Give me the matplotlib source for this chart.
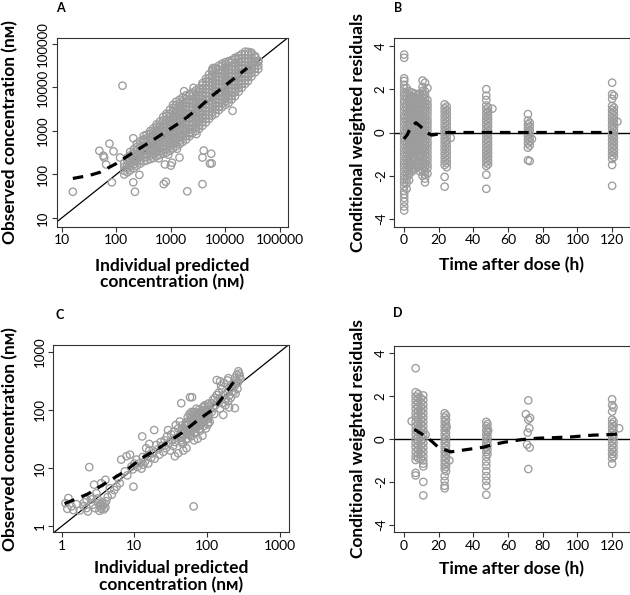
import numpy as np
import matplotlib
matplotlib.use("Agg")
import matplotlib.pyplot as plt
from matplotlib.ticker import NullLocator

# ---- panel A: observed vs individual predicted concentration (nM) ----
# scattered points read one by one
a_outliers = [
    (16, 40), (49, 350), (75, 510), (65, 170), (60, 245), (89, 340), (83, 66),
    (58, 270), (117, 245), (205, 680), (315, 610), (205, 66), (220, 40), (265, 98),
    (130, 11000), (780, 170), (1050, 186), (1000, 160), (740, 60), (810, 68),
    (1440, 245), (2000, 41), (3800, 60), (4000, 355), (3800, 245), (5500, 300),
    (5200, 178), (5600, 180), (2200, 870), (2950, 850), (13500, 2900), (5900, 28000),
    (600, 235), (900, 285), (1300, 390), (1750, 8200), (2600, 9800),
]
# dense band, read column by column: (ipred, [observed ...])
a_cloud = [
    (140, [100, 122, 150, 182]),
    (160, [112, 138, 165, 205, 245]),
    (180, [125, 155, 185, 230, 275, 330]),
    (210, [140, 172, 210, 255, 305, 380]),
    (238, [158, 195, 232, 290, 345, 425, 510]),
    (276, [178, 215, 265, 318, 392, 470, 580]),
    (318, [200, 245, 295, 362, 435, 535, 645, 770]),
    (360, [210, 252, 310, 375, 460, 555, 680, 820]),
    (420, [225, 270, 332, 400, 492, 595, 728, 875, 1000]),
    (480, [240, 295, 352, 435, 522, 640, 775, 950, 1150]),
    (548, [262, 322, 388, 475, 575, 705, 850, 1040, 1250, 1420]),
    (630, [285, 340, 420, 505, 620, 748, 915, 1100, 1360, 1640]),
    (725, [300, 370, 445, 545, 660, 808, 975, 1200, 1440, 1770, 2100]),
    (830, [318, 382, 470, 565, 695, 840, 1030, 1240, 1520, 1830, 2250, 2500]),
    (960, [352, 435, 522, 642, 775, 950, 1145, 1400, 1690, 2080, 2500, 3080]),
    (1100, [400, 482, 592, 712, 875, 1055, 1295, 1560, 1910, 2310, 2830, 3420, 4000]),
    (1250, [445, 548, 658, 808, 975, 1195, 1440, 1770, 2130, 2610, 3160, 3870, 4700]),
    (1450, [505, 605, 745, 895, 1100, 1325, 1630, 1960, 2410, 2900, 3560, 4300, 5250]),
    (1650, [560, 690, 828, 1020, 1225, 1505, 1810, 2220, 2680, 3290, 3970, 4870, 5900]),
    (1900, [635, 762, 940, 1130, 1390, 1670, 2050, 2470, 3030, 3660, 4490, 5420, 6600]),
    (2200, [755, 930, 1115, 1370, 1650, 2030, 2445, 3000, 3620, 4440, 5350, 6560, 7100]),
    (2500, [895, 1080, 1325, 1595, 1960, 2360, 2900, 3490, 4290, 5170, 6340, 7650]),
    (2900, [1000, 1225, 1470, 1810, 2180, 2680, 3220, 3960, 4760, 5850, 7040, 8650]),
    (3300, [1125, 1355, 1670, 2010, 2470, 2970, 3650, 4400, 5400, 6500, 7990, 9650]),
    (3800, [1320, 1595, 1960, 2360, 2900, 3490, 4290, 5160, 6340, 7640, 9380, 11300, 12600]),
    (4400, [1580, 1940, 2330, 2870, 3450, 4240, 5100, 6270, 7550, 9280, 11200, 13700, 15900]),
    (5000, [1900, 2330, 2800, 3450, 4150, 5100, 6140, 7540, 9080, 11150, 13400, 16500, 19900]),
    (5700, [2250, 2710, 3330, 4010, 4920, 5930, 7290, 8780, 10800, 13000, 15950, 19200, 23600, 25100]),
    (6600, [2500, 3070, 3700, 4540, 5470, 6720, 8090, 9940, 11950, 14700, 17700, 21800, 26200, 28300]),
    (7600, [3030, 3650, 4490, 5410, 6640, 8000, 9820, 11830, 14530, 17500, 21500, 25900, 31800]),
    (8700, [3530, 4340, 5220, 6410, 7720, 9490, 11420, 14040, 16900, 20760, 25000, 30700, 35300]),
    (10000, [4000, 4820, 5920, 7130, 8760, 10540, 12950, 15600, 19150, 23070, 28350, 34100, 38200]),
    (11500, [4440, 5460, 6570, 8080, 9730, 11950, 14390, 17680, 21290, 26150, 31500, 38700, 40200]),
    (13000, [5270, 6350, 7800, 9390, 11540, 13900, 17060, 20550, 25250, 30400, 37350, 42500]),
    (15000, [6280, 7710, 9290, 11420, 13750, 16890, 20330, 24990, 30070, 36950, 44450, 48100]),
    (17500, [7990, 9610, 11810, 14220, 17470, 21020, 25840, 31110, 38230, 46010, 52800]),
    (20000, [9950, 12220, 14710, 18080, 21770, 26750, 32190, 39570, 47620, 58500]),
    (23000, [12080, 14540, 17870, 21520, 26450, 31840, 39120, 47090, 57860, 66500]),
    (26000, [14050, 17270, 20790, 25550, 30760, 37800, 45500, 55910, 65700]),
    (30000, [17880, 21520, 26450, 31840, 39120, 47090, 57860, 63400]),
    (35000, [22280, 27380, 32960, 40500, 48750, 52800]),
    (40000, [26450, 31840, 39120, 41500]),
]
a_loess_x = [16, 32, 50, 100, 200, 400, 800, 1580, 3160, 6300, 12600, 25000]
a_loess_y = [81, 95, 112, 178, 316, 540, 955, 1660, 3300, 7100, 14100, 28000]

# ---- panel B: CWRES vs time after dose (h) ----
b_cols = [
    (0.2, [3.6, 3.45, 2.5, 2.38, 2.2, 2.04, 1.85, 1.7, 1.5, 1.36, 1.17, 1.0, 0.8, 0.66, 0.47, 0.3, 0.1, -0.05,
           -0.24, -0.4, -0.57, -0.76, -0.93, -1.1, -1.3, -1.45, -1.62, -1.8, -1.99, -2.15, -2.31, -2.5, -2.7,
           -2.85, -3.02, -3.2, -3.42, -3.6]),
    (1.6, [2.05, 1.86, 1.7, 1.55, 1.34, 1.18, 1.02, 0.83, 0.65, 0.49, 0.3, 0.12, -0.05, -0.23, -0.4, -0.56,
           -0.75, -0.93, -1.1, -1.26, -1.45, -1.63, -1.8, -1.96, -2.15, -2.33, -2.6]),
    (3.0, [1.9, 1.73, 1.54, 1.38, 1.2, 1.01, 0.85, 0.68, 0.5, 0.31, 0.15, -0.03, -0.21, -0.38, -0.55, -0.72,
           -0.9, -1.08, -1.26, -1.43, -1.6, -1.77, -1.95, -2.2]),
    (4.6, [1.85, 1.66, 1.5, 1.33, 1.14, 0.97, 0.8, 0.61, 0.45, 0.28, 0.1, -0.07, -0.25, -0.44, -0.6, -0.77,
           -0.95, -1.14, -1.3, -1.48, -1.65, -1.8]),
    (6.2, [1.8, 1.63, 1.44, 1.27, 1.1, 0.93, 0.74, 0.57, 0.4, 0.21, 0.05, -0.13, -0.3, -0.49, -0.65, -0.82,
           -1.0, -1.19, -1.35, -1.52, -1.7]),
    (7.8, [1.75, 1.57, 1.4, 1.24, 1.05, 0.87, 0.7, 0.54, 0.35, 0.17, 0.0, -0.18, -0.35, -0.51, -0.7, -0.88,
           -1.05, -1.4, -1.6]),
    (9.3, [1.8, 1.62, 1.45, 1.29, 1.1, 0.92, 0.76, 0.58, 0.4, 0.22, 0.05, -0.12, -0.31, -0.47, -0.65, -0.83,
           -1.0, -1.16, -1.35, -1.53, -1.8]),
    (10.8, [2.4, 2.1, 1.92, 1.75, 1.59, 1.4, 1.22, 1.05, 0.88, 0.7, 0.52, 0.35, 0.19, 0.0, -0.17, -0.36,
            -0.52, -0.7, -0.86, -1.05, -1.23, -1.4, -1.57, -1.76, -2.0]),
    (12.2, [2.3, 1.9, 1.73, 1.55, 1.36, 1.2, 1.03, 0.85, 0.66, 0.5, 0.33, 0.15, -0.03, -0.2, -0.39, -0.55,
            -0.72, -0.9, -1.08, -1.26, -1.43, -1.6, -1.78, -1.95, -2.13, -2.3]),
    (13.6, [2.05, 1.5, 1.31, 1.15, 0.98, 0.8, 0.61, 0.45, 0.28, 0.1, -0.07, -0.25, -0.44, -0.6, -0.77, -0.95,
            -1.13, -1.3, -1.49, -1.65, -1.9]),
    (23.5, [1.3, 1.12, 0.95, 0.77, 0.6, 0.42, 0.25, 0.07, -0.1, -0.28, -0.45, -0.63, -0.8, -0.98, -1.15,
            -1.33, -1.5, -2.05, -2.5]),
    (24.7, [1.2, 1.03, 0.85, 0.68, 0.5, 0.33, 0.15, -0.02, -0.2, -0.37, -0.55, -0.72, -0.9, -1.07, -1.25,
            -1.42, -1.6]),
    (47.5, [2.0, 1.7, 1.5, 1.25, 1.07, 0.9, 0.72, 0.55, 0.37, 0.2, 0.02, -0.15, -0.33, -0.5, -0.68, -0.85,
            -1.03, -1.2, -1.38, -1.55, -1.95, -2.6]),
    (48.5, [1.15, 0.98, 0.8, 0.63, 0.45, 0.28, 0.1, -0.07, -0.25, -0.42, -0.6, -0.77, -0.95, -1.12, -1.3,
            -1.47]),
    (71.5, [0.85, 0.55, 0.38, 0.2, 0.03, -0.15, -0.32, -0.5, -0.7, -1.28]),
    (72.5, [0.45, 0.28, 0.1, -0.07, -0.25, -0.42, -0.6, -1.32]),
    (120.0, [2.3, 1.77, 1.55, 1.23, 1.05, 0.88, 0.7, 0.53, 0.35, 0.18, 0.0, -0.17, -0.35, -0.52, -0.7,
             -0.87, -1.05, -1.22, -1.5, -2.46]),
    (121.0, [1.7, 1.15, 0.97, 0.8, 0.62, 0.45, 0.27, 0.1, -0.08, -0.25, -0.43, -0.6, -0.78, -0.95, -1.13]),
]
b_extra = [(27, -0.25), (51, 1.1), (73.8, -0.3), (123, 0.5)]
b_loess_t = [0, 2, 4, 7, 10, 13, 16, 20, 25, 40, 60, 80, 100, 120]
b_loess_y = [-0.3, -0.1, 0.25, 0.45, 0.25, 0.0, -0.12, -0.07, 0.0, 0.0, 0.0, 0.0, 0.0, 0.0]

# ---- panel C: observed vs individual predicted concentration (nM) ----
c_points = [
    (1.13, 2.5), (1.24, 3.06), (1.37, 2.2), (1.2, 2.0), (1.45, 1.9), (1.78, 1.87), (2.0, 2.2), (2.2, 2.06), (2.3, 1.8), (2.6, 2.9),
    (2.7, 2.35), (2.9, 2.05), (3.2, 2.5), (3.4, 2.2), (3.5, 2.0), (3.7, 2.3), (3.8, 1.95), (3.6, 2.6), (4.0, 2.1), (3.3, 1.85),
    (3.0, 3.7), (2.8, 5.2), (2.4, 10.4), (3.5, 5.5), (4.0, 6.3), (4.6, 4.5), (4.9, 3.5), (5.3, 4.2), (5.7, 4.8), (6.3, 5.5),
    (6.0, 6.7), (2.5, 3.3), (3.1, 3.0), (4.3, 3.2), (4.1, 2.7), (2.2, 2.9), (1.6, 2.4), (2.05, 2.6), (3.45, 2.4), (3.9, 2.45),
    (7.4, 8.8), (6.6, 14), (7.8, 16), (8.7, 17), (9.1, 10.6), (9.7, 4.8), (10.7, 14), (12, 12.2), (13.3, 11.4), (12.8, 35),
    (8.0, 7.5), (9.5, 9.5), (11, 10.5), (10, 12), (14, 13), (15, 16), (16, 20), (17, 15), (14.5, 22), (18, 18),
    (18.7, 45), (20, 25), (19, 14.5), (21, 21), (22, 17), (23, 28), (16, 26), (24, 24), (26, 30), (25, 19),
    (27, 22), (15.5, 12), (12.5, 9.8), (13, 15.5),
    (28, 35), (30, 27), (32, 38), (29, 45), (31, 20), (33, 30), (35, 42), (36, 28), (34, 24), (38, 33),
    (40, 48), (37, 55), (42, 36), (44, 30), (42, 63), (50, 55), (45, 40), (48, 46), (46, 26), (52, 31),
    (55, 42), (53, 60), (56, 38), (58, 50), (60, 45), (62, 56), (64, 70), (66, 52), (68, 62), (70, 48),
    (72, 75), (75, 58), (78, 66), (80, 54), (82, 80), (85, 70), (88, 62), (90, 85), (92, 75), (95, 95),
    (98, 68), (100, 88), (105, 78), (110, 100), (115, 92), (120, 110), (125, 85), (130, 120), (44, 130), (58, 165),
    (62, 165), (54, 75), (57, 85), (61, 92), (65, 90), (71, 105), (76, 88), (83, 95), (87, 110), (93, 120),
    (69, 40), (74, 32), (80, 44), (86, 36), (96, 48), (102, 56), (108, 62), (60, 35), (66, 30), (52, 22),
    (47, 20), (40, 18), (36, 16), (65, 2.2),
    (140, 140), (150, 160), (160, 130), (170, 180), (180, 150), (190, 200), (200, 175), (210, 240), (220, 210), (230, 280),
    (240, 260), (250, 320), (265, 300), (280, 380), (275, 420), (160, 230), (170, 290), (190, 320), (200, 110), (166, 82),
    (150, 105), (135, 180), (145, 200), (120, 150), (128, 160), (115, 130), (178, 120), (230, 200), (260, 230), (285, 340),
    (155, 260), (195, 140), (210, 160), (245, 190), (268, 460), (255, 400), (240, 350), (135, 325), (150, 310), (195, 350),
    (255, 290), (240, 107),
]
# dense knot around 40-110 nM, read column by column
c_cloud = [
    (45, [28, 33, 39, 46, 54]),
    (52, [32, 38, 45, 53, 62]),
    (60, [36, 42, 50, 59, 70, 80]),
    (68, [41, 48, 57, 67, 79, 92]),
    (78, [47, 55, 65, 76, 89, 102]),
    (90, [53, 62, 73, 86, 100, 115]),
    (103, [60, 71, 84, 98, 114, 128]),
]
c_loess_x = [1.1, 2.3, 4.4, 7.4, 12.6, 23.6, 44.6, 76, 127, 230]
c_loess_y = [2.45, 3.6, 5.9, 8.8, 14.8, 23.6, 40, 68, 107, 300]

# ---- panel D: CWRES vs time after dose (h) ----
d_cols = [
    (6.8, [3.3, 2.18, 1.98, 1.8, 1.6, 1.41, 1.2, 1.02, 0.8, 0.61, 0.4, 0.21, 0.0, -0.2, -0.39, -0.6, -0.8,
           -0.98, -1.58, -1.7]),
    (8.3, [2.1, 1.9, 1.71, 1.5, 1.3, 1.1, 0.9, 0.7, 0.51, 0.3, 0.1, -0.1, -0.3, -0.5, -0.7, -0.9]),
    (9.8, [1.9, 1.7, 1.5, 1.31, 1.1, 0.9, 0.71, 0.5, 0.3, 0.1, -0.1, -0.31, -0.5, -0.7, -0.92]),
    (11.2, [2.03, 1.82, 1.6, 1.4, 1.2, 1.0, 0.8, 0.6, 0.4, 0.2, 0.0, -0.2, -0.4, -0.6, -0.8, -1.0, -1.15,
            -1.28, -2.0, -2.63]),
    (23.5, [1.2, 1.0, 0.8, 0.6, 0.4, 0.2, 0.0, -0.2, -0.4, -0.6, -0.8, -1.0, -1.2, -1.4, -1.73, -1.95,
            -2.18, -2.3]),
    (24.3, [1.1, 0.9, 0.7, 0.5, 0.3, 0.1, -0.1, -0.3, -0.5, -0.7, -0.9, -1.1, -1.3, -1.5]),
    (47.5, [0.8, 0.6, 0.4, 0.2, 0.0, -0.2, -0.4, -0.6, -0.83, -1.05, -1.25, -1.5, -1.73, -1.95, -2.18,
            -2.6]),
    (48.2, [0.7, 0.5, 0.3, 0.1, -0.1, -0.3, -0.5, -0.7]),
    (120.0, [1.85, 1.58, 1.28, 0.9, 0.7, 0.5, 0.3, 0.1, -0.1, -0.3, -0.5, -0.7, -0.9, -1.16]),
    (120.8, [1.47, 0.8, 0.6, 0.4, 0.2, 0.0, -0.2, -0.4, -0.6, -0.8]),
]
d_extra = [(4.5, 0.83), (12.5, 0.2), (26.2, -1.0), (24.6, 0.56), (48.6, 0.38),
           (71.7, 1.8), (70.3, 1.16), (72.7, 0.98), (71.7, 0.9), (72.3, 0.5), (71.3, 0.3),
           (71, -0.26), (72.5, -0.4), (71.7, -1.4), (124, 0.5)]
d_loess_t = [6, 11, 16, 20, 27, 33, 40, 46, 52, 58, 66, 71, 78, 83, 91, 97, 104, 109, 117, 123]
d_loess_y = [0.45, 0.2, -0.1, -0.4, -0.6, -0.53, -0.45, -0.38, -0.25, -0.15, -0.05, 0.0, 0.04, 0.05, 0.08,
             0.1, 0.15, 0.18, 0.2, 0.23]

conc_ticks_a = [10, 100, 1000, 10000, 100000]
conc_ticks_c = [1, 10, 100, 1000]
time_ticks = [0, 20, 40, 60, 80, 100, 120]
res_ticks = [-4, -2, 0, 2, 4]

plt.rcParams['font.family'] = ['Lato', 'DejaVu Sans']

GREY = '#9c9c9c'
W, H = 630, 595

fig = plt.figure(figsize=(6.3, 5.95), dpi=100)


def flatten(cols):
    return [(x, y) for x, ys in cols for y in ys]


def px_axes(left, top, right, bottom):
    return fig.add_axes([left / W, 1 - bottom / H, (right - left) / W, (bottom - top) / H])


def style(ax):
    for s in ax.spines.values():
        s.set_color('#333333')
        s.set_linewidth(0.8)
    ax.tick_params(direction='out', length=3.5, width=0.8, color='#333333', labelsize=10, pad=2)
    ax.tick_params(axis='y', labelrotation=90, labelsize=9.5)
    for lab in ax.get_yticklabels():
        lab.set_va('center')


def scatter(ax, pts):
    x, y = np.array(pts).T
    ax.scatter(x, y, s=28, facecolors='none', edgecolors=GREY, linewidths=0.95, zorder=2)


def conc_panel(ax, pts, lx, ly, xlim, ylim, ticks):
    ax.set_xscale('log')
    ax.set_yscale('log')
    ax.plot([1e-3, 1e7], [1e-3, 1e7], color='black', lw=0.9, zorder=1)
    scatter(ax, pts)
    ax.plot(lx, ly, color='black', lw=2.3, dashes=(3.3, 2.4), zorder=3)
    ax.set_xlim(*xlim)
    ax.set_ylim(*ylim)
    labels = [str(t) for t in ticks]
    ax.set_xticks(ticks, labels)
    ax.set_yticks(ticks, labels)
    ax.xaxis.set_minor_locator(NullLocator())
    ax.yaxis.set_minor_locator(NullLocator())
    style(ax)


def res_panel(ax, pts, lt, ly):
    ax.axhline(0, color='black', lw=1.0, zorder=1)
    scatter(ax, pts)
    ax.plot(lt, ly, color='black', lw=2.3, dashes=(3.3, 2.4), zorder=3)
    ax.set_xlim(-5.5, 130)
    ax.set_ylim(-4.35, 4.35)
    ax.set_xticks(time_ticks, [str(t) for t in time_ticks])
    ax.set_yticks(res_ticks, [str(t) for t in res_ticks])
    style(ax)


ax_a = px_axes(56.7, 38.3, 288.3, 226.7)
conc_panel(ax_a, a_outliers + flatten(a_cloud), a_loess_x, a_loess_y,
           (8.1, 142000), (6.3, 135000), conc_ticks_a)

ax_b = px_axes(394.3, 38.3, 629.5, 226.7)
res_panel(ax_b, flatten(b_cols) + b_extra, b_loess_t, b_loess_y)

ax_c = px_axes(53.3, 345.0, 289.3, 532.3)
conc_panel(ax_c, c_points + flatten(c_cloud), c_loess_x, c_loess_y,
           (0.77, 1340), (0.79, 1300), conc_ticks_c)

ax_d = px_axes(394.3, 345.7, 629.5, 532.3)
res_panel(ax_d, flatten(d_cols) + d_extra, d_loess_t, d_loess_y)

lab_kw = dict(fontsize=12.5, fontweight='bold', ha='center', va='center')
conc_y = 'Observed concentration (n\u1d0d)'
conc_x = 'Individual predicted\nconcentration (n\u1d0d)'
res_y = 'Conditional weighted residuals'
res_x = 'Time after dose (h)'

fig.text(10 / W, 1 - 132.5 / H, conc_y, rotation=90, **lab_kw)
fig.text(172.5 / W, 1 - 274 / H, conc_x, linespacing=1.05, **lab_kw)
fig.text(358 / W, 1 - 132.5 / H, res_y, rotation=90, **lab_kw)
fig.text(511.7 / W, 1 - 265 / H, res_x, **lab_kw)

fig.text(10 / W, 1 - 439 / H, conc_y, rotation=90, **lab_kw)
fig.text(171.3 / W, 1 - 576.5 / H, conc_x, linespacing=1.05, **lab_kw)
fig.text(358 / W, 1 - 439 / H, res_y, rotation=90, **lab_kw)
fig.text(511.7 / W, 1 - 569 / H, res_x, **lab_kw)

letter_kw = dict(fontsize=9, fontweight='bold', ha='center', va='center')
fig.text(60 / W, 1 - 8 / H, 'A', **letter_kw)
fig.text(398 / W, 1 - 8 / H, 'B', **letter_kw)
fig.text(60 / W, 1 - 315 / H, 'C', **letter_kw)
fig.text(398 / W, 1 - 313 / H, 'D', **letter_kw)

fig.savefig('out.png', dpi=100)
